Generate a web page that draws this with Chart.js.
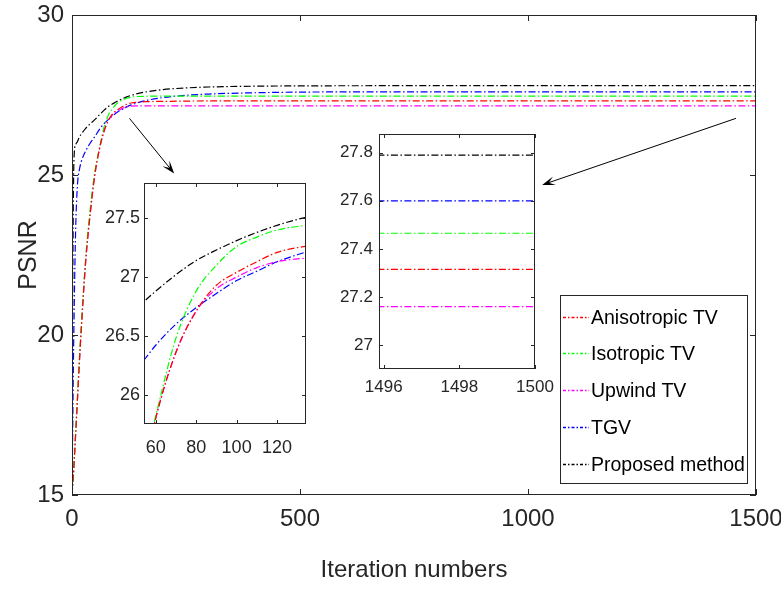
<!DOCTYPE html>
<html>
<head>
<meta charset="utf-8">
<script src="https://cdn.jsdelivr.net/npm/chart.js@4.4.0/dist/chart.umd.min.js"></script>
<style>
  body { margin: 0; background: #fff; }
  #wrap { position: relative; width: 781px; height: 592px; }
  canvas { position: absolute; }
</style>
</head>
<body>
<div id="wrap">
  <canvas id="main" width="781" height="592" style="left:0;top:0"></canvas>
  <canvas id="zoomA" width="215" height="290" style="left:100px;top:175px"></canvas>
  <canvas id="zoomB" width="240" height="285" style="left:325px;top:126px"></canvas>
</div>
<script>
const FONT = "'Liberation Sans', Arial, sans-serif";
const AXIS = '#262626';

// PSNR per iteration
const iterations = [0, 1, 3, 5, 8, 12, 16, 20, 30, 40, 50, 60, 70, 80, 90, 100, 110, 120, 130, 140, 160, 200, 250, 300, 400, 500, 700, 1000, 1500];
const anisotropicTV = [15.0, 15.2, 15.6, 16.1, 16.9, 18.0, 19.1, 20.1, 22.3, 23.8, 25.0, 25.8, 26.36, 26.71, 26.93, 27.04, 27.13, 27.21, 27.25, 27.27, 27.29, 27.30, 27.31, 27.315, 27.315, 27.315, 27.315, 27.315, 27.315];
const isotropicTV = [15.0, 15.2, 15.6, 16.15, 17.0, 18.1, 19.2, 20.2, 22.4, 23.95, 25.1, 25.82, 26.48, 26.88, 27.1, 27.26, 27.34, 27.40, 27.43, 27.45, 27.46, 27.465, 27.465, 27.465, 27.465, 27.465, 27.465, 27.465, 27.465];
const upwindTV = [15.0, 15.2, 15.6, 16.1, 16.9, 18.0, 19.1, 20.1, 22.3, 23.8, 25.0, 25.8, 26.36, 26.71, 26.9, 27.0, 27.08, 27.13, 27.155, 27.16, 27.16, 27.16, 27.16, 27.16, 27.16, 27.16, 27.16, 27.16, 27.16];
const tgv = [15.0, 16.3, 19.0, 21.0, 23.3, 24.7, 25.15, 25.4, 25.75, 26.0, 26.2, 26.42, 26.6, 26.74, 26.86, 26.97, 27.05, 27.13, 27.19, 27.24, 27.32, 27.42, 27.49, 27.53, 27.57, 27.59, 27.60, 27.60, 27.60];
const proposed = [15.0, 19.5, 24.3, 25.7, 25.95, 26.05, 26.18, 26.27, 26.46, 26.6, 26.73, 26.88, 27.02, 27.14, 27.23, 27.31, 27.38, 27.44, 27.49, 27.53, 27.59, 27.67, 27.72, 27.75, 27.775, 27.785, 27.79, 27.79, 27.79];

const seriesNames = ['Anisotropic TV', 'Isotropic TV', 'Upwind TV', 'TGV', 'Proposed method'];
const seriesColors = ['#ff0000', '#00ff00', '#ff00ff', '#0000ff', '#000000'];
const seriesValues = [anisotropicTV, isotropicTV, upwindTV, tgv, proposed];

const mainXTicks = [0, 500, 1000, 1500];
const mainYTicks = [15, 20, 25, 30];
const zoomAXTicks = [60, 80, 100, 120];
const zoomAYTicks = [26, 26.5, 27, 27.5];
const zoomBXTicks = [1496, 1498, 1500];
const zoomBYTicks = [27, 27.2, 27.4, 27.6, 27.8];

// arrows pointing to the insets: [x0, y0, x1, y1] in data units
const arrowLines = [[126, 26.77, 224, 25.05], [1456, 26.77, 1031, 24.69]];

const makeDatasets = () => seriesNames.map((name, i) => ({
  label: name,
  data: iterations.map((it, j) => ({ x: it, y: seriesValues[i][j] })),
  borderColor: seriesColors[i],
  borderWidth: 1.2,
  borderDash: [7, 2.5, 1.5, 2.5],
  pointRadius: 0,
  cubicInterpolationMode: 'monotone',
  fill: false
}));

const fixTicks = values => scale => { scale.ticks = values.map(v => ({ value: v })); };
const fixSize = (w, h) => scale => {
  if (w != null) scale.width = w;
  if (h != null) scale.height = h;
  scale.paddingTop = scale.paddingBottom = scale.paddingLeft = scale.paddingRight = 0;
};

// matlab style box with inward ticks
const boxPlugin = {
  id: 'box',
  beforeDatasetsDraw(chart, args, o) {
    if (!o.fill) return;
    const a = chart.chartArea;
    chart.ctx.save();
    chart.ctx.fillStyle = '#fff';
    chart.ctx.fillRect(a.left, a.top, a.width, a.height);
    chart.ctx.restore();
  },
  afterDatasetsDraw(chart, args, o) {
    const { ctx, chartArea: a, scales: { x, y } } = chart;
    ctx.save();
    ctx.strokeStyle = AXIS;
    ctx.lineWidth = 1;
    ctx.strokeRect(Math.round(a.left) + 0.5, Math.round(a.top) + 0.5, Math.round(a.width) - 1, Math.round(a.height) - 1);
    ctx.beginPath();
    x.ticks.forEach(t => {
      const px = Math.round(x.getPixelForValue(t.value)) + 0.5;
      ctx.moveTo(px, a.bottom); ctx.lineTo(px, a.bottom - o.len);
      ctx.moveTo(px, a.top); ctx.lineTo(px, a.top + o.len);
    });
    y.ticks.forEach(t => {
      const py = Math.round(y.getPixelForValue(t.value)) + 0.5;
      ctx.moveTo(a.left, py); ctx.lineTo(a.left + o.len, py);
      ctx.moveTo(a.right, py); ctx.lineTo(a.right - o.len, py);
    });
    ctx.stroke();
    ctx.restore();
  }
};

const arrowPlugin = {
  id: 'arrows',
  afterDatasetsDraw(chart, args, o) {
    const { ctx, scales: { x, y } } = chart;
    ctx.save();
    ctx.strokeStyle = '#000';
    ctx.fillStyle = '#000';
    ctx.lineWidth = 1;
    o.lines.forEach(([a, b, c, d]) => {
      const x0 = x.getPixelForValue(a), y0 = y.getPixelForValue(b);
      const x1 = x.getPixelForValue(c), y1 = y.getPixelForValue(d);
      const ang = Math.atan2(y1 - y0, x1 - x0);
      const cs = Math.cos(ang), sn = Math.sin(ang);
      const L = 11, W = 4.5;
      ctx.beginPath(); ctx.moveTo(x0, y0); ctx.lineTo(x1 - cs * 6, y1 - sn * 6); ctx.stroke();
      const bx = x1 - cs * L, by = y1 - sn * L;
      ctx.beginPath();
      ctx.moveTo(x1, y1);
      ctx.lineTo(bx - sn * W - cs * 2, by + cs * W - sn * 2);
      ctx.lineTo(x1 - cs * 7, y1 - sn * 7);
      ctx.lineTo(bx + sn * W - cs * 2, by - cs * W - sn * 2);
      ctx.closePath();
      ctx.fill();
    });
    ctx.restore();
  }
};

const legendPlugin = {
  id: 'boxLegend',
  afterDraw(chart, args, o) {
    const ctx = chart.ctx;
    ctx.save();
    ctx.fillStyle = '#fff';
    ctx.fillRect(o.left, o.top, o.width, o.height);
    ctx.strokeStyle = AXIS;
    ctx.lineWidth = 1;
    ctx.strokeRect(o.left + 0.5, o.top + 0.5, o.width, o.height);
    ctx.font = o.fontSize + 'px ' + FONT;
    ctx.textBaseline = 'middle';
    chart.data.datasets.forEach((ds, i) => {
      const yy = Math.round(o.top + o.first + i * o.step) + 0.5;
      ctx.setLineDash([3, 2, 1.5, 2]);
      ctx.strokeStyle = ds.borderColor;
      ctx.lineWidth = 1.3;
      ctx.beginPath(); ctx.moveTo(o.left + 3, yy); ctx.lineTo(o.left + 29, yy); ctx.stroke();
      ctx.setLineDash([]);
      ctx.fillStyle = '#000';
      ctx.fillText(ds.label, o.left + 31, yy + 1);
    });
    ctx.restore();
  }
};

const tickFont = size => ({ family: FONT, size: size });
const fmt = v => String(v);

new Chart(document.getElementById('main'), {
  type: 'line',
  data: { datasets: makeDatasets() },
  options: {
    responsive: false,
    animation: false,
    layout: { padding: { left: 0, right: 25, top: 15, bottom: 0 } },
    plugins: {
      legend: { display: false },
      tooltip: { enabled: false },
      box: { len: 6, fill: false },
      arrows: { lines: arrowLines },
      boxLegend: { left: 560, top: 295, width: 187, height: 188, first: 21.7, step: 36.7, fontSize: 19.5 }
    },
    scales: {
      x: {
        type: 'linear', min: 0, max: 1500,
        grid: { display: false, drawTicks: false }, border: { display: false },
        ticks: { font: tickFont(24), color: AXIS, padding: 10, maxRotation: 0, autoSkip: false, callback: fmt },
        title: { display: true, text: 'Iteration numbers', color: AXIS, font: { family: FONT, size: 24 }, padding: { top: 0, bottom: 7 } },
        afterBuildTicks: fixTicks(mainXTicks),
        afterFit: fixSize(null, 97)
      },
      y: {
        type: 'linear', min: 15, max: 30,
        grid: { display: false, drawTicks: false }, border: { display: false },
        ticks: { font: tickFont(24), color: AXIS, padding: 8, autoSkip: false, callback: fmt },
        title: { display: true, text: 'PSNR', color: AXIS, font: { family: FONT, size: 25 }, padding: { top: 14, bottom: 0 } },
        afterBuildTicks: fixTicks(mainYTicks),
        afterFit: fixSize(72, null)
      }
    }
  },
  plugins: [boxPlugin, arrowPlugin, legendPlugin]
});

function makeInset(id, xMin, xMax, yMin, yMax, xTicks, yTicks, pad, yWidth, xHeight, xPad, yPad, size) {
  return new Chart(document.getElementById(id), {
    type: 'line',
    data: { datasets: makeDatasets() },
    options: {
      responsive: false,
      animation: false,
      layout: { padding: pad },
      plugins: { legend: { display: false }, tooltip: { enabled: false }, box: { len: 4, fill: true } },
      scales: {
        x: {
          type: 'linear', min: xMin, max: xMax,
          grid: { display: false, drawTicks: false }, border: { display: false },
          ticks: { font: tickFont(size), color: AXIS, padding: xPad, maxRotation: 0, autoSkip: false, callback: fmt },
          afterBuildTicks: fixTicks(xTicks),
          afterFit: fixSize(null, xHeight)
        },
        y: {
          type: 'linear', min: yMin, max: yMax,
          grid: { display: false, drawTicks: false }, border: { display: false },
          ticks: { font: tickFont(size), color: AXIS, padding: yPad, autoSkip: false, callback: fmt },
          afterBuildTicks: fixTicks(yTicks),
          afterFit: fixSize(yWidth, null)
        }
      }
    },
    plugins: [boxPlugin]
  });
}

makeInset('zoomA', 54.2, 134.3, 25.75, 27.8, zoomAXTicks, zoomAYTicks, { left: 0, top: 8, right: 9, bottom: 0 }, 44, 41, 13, 4, 18);
makeInset('zoomB', 1495.875, 1500, 26.9, 27.878, zoomBXTicks, zoomBYTicks, { left: 0, top: 8, right: 30, bottom: 0 }, 54, 42, 8, 6, 17);
</script>
</body>
</html>
